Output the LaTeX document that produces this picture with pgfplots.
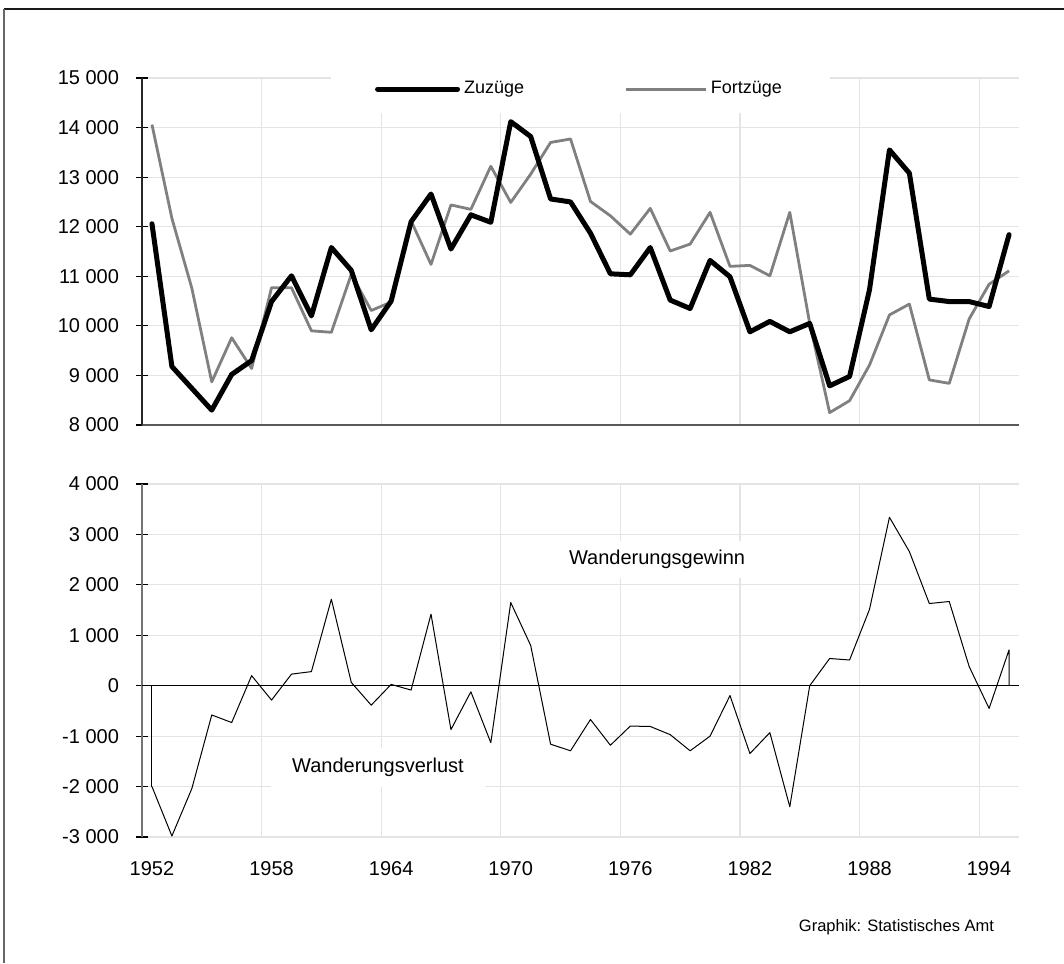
\documentclass[border=0pt]{standalone}
\usepackage{pgfplots}
\pgfplotsset{compat=1.18}
\usepackage{pgfplotstable}
\usepackage{fontspec}
\setmainfont{Liberation Sans}

\pgfplotstableread{
year zu fort net
1952 12060 14060 -2000
1953 9180 12170 -2980
1954 8740 10760 -2040
1955 8300 8870 -580
1956 9020 9760 -730
1957 9300 9140 200
1958 10490 10770 -285
1959 11010 10770 230
1960 10200 9900 280
1961 11580 9870 1715
1962 11120 11040 66
1963 9920 10310 -385
1964 10500 10480 26
1965 12100 12120 -86
1966 12660 11240 1420
1967 11550 12440 -870
1968 12240 12350 -120
1969 12090 13220 -1130
1970 14120 12490 1650
1971 13820 13060 800
1972 12560 13700 -1160
1973 12500 13770 -1290
1974 11870 12510 -670
1975 11050 12220 -1180
1976 11030 11850 -800
1977 11580 12370 -808
1978 10520 11510 -970
1979 10350 11650 -1290
1980 11320 12290 -1000
1981 10990 11200 -195
1982 9880 11220 -1345
1983 10090 11010 -930
1984 9880 12290 -2400
1985 10050 10050 0
1986 8790 8250 540
1987 8980 8490 510
1988 10730 9210 1515
1989 13550 10220 3340
1990 13080 10440 2660
1991 10540 8910 1630
1992 10490 8840 1670
1993 10490 10140 380
1994 10390 10840 -450
1995 11840 11110 710
}\data

\definecolor{gridc}{HTML}{E4E4E4}
\definecolor{fortc}{HTML}{808080}

\pgfplotsset{
  common/.style={
    scale only axis,
    width=438.5pt,
    xmin=1951.5, xmax=1995.5,
    font=\fontsize{10}{12}\selectfont,
    tick align=center,
    major tick length=6pt,
    minor tick length=0pt,
    ytick style={black, line width=0.6pt},
    x tick style={draw=none},
    grid style={gridc, line width=0.6pt},
    minor grid style={gridc, line width=0.6pt},
    ymajorgrids,
    xminorgrids,
    scaled y ticks=false,
    xtick={1952,1958,1964,1970,1976,1982,1988,1994},
    minor xtick={1951.5,1957.5,1963.5,1969.5,1975.5,1981.5,1987.5,1993.5},
    yticklabel style={xshift=-5pt},
    axis y line*=left,
    axis x line*=bottom,
    clip=false,
  }
}

\begin{document}
\begin{tikzpicture}
\path[use as bounding box] (0pt,0pt) rectangle (532pt,-481.5pt);
\draw[black!90, line width=1pt] (2pt,-4.5pt) -- (532pt,-4.5pt);
\draw[black!60, line width=1pt] (2pt,-4.5pt) -- (2pt,-481.5pt);

% top panel
\begin{axis}[common,
  at={(71pt,-212.5pt)}, anchor=south west,
  height=173.5pt,
  ymin=8000, ymax=15000,
  ytick={8000,9000,10000,11000,12000,13000,14000,15000},
  yticklabels={{8 000},{9 000},{10 000},{11 000},{12 000},{13 000},{14 000},{15 000}},
  xticklabels={},
  x axis line style={draw=black!65, line width=0.8pt, -},
  y axis line style={draw=black!85, line width=0.8pt, -},
  legend columns=2,
  legend style={at={(rel axis cs:0.5,0.968)}, anchor=center, draw=none, fill=white,
    font=\fontsize{9}{11}\selectfont, inner xsep=22pt, inner ysep=6pt,
    /tikz/every even column/.append style={column sep=48pt},
    nodes={inner xsep=2pt}},
  legend image code/.code={\draw[#1] (0pt,0pt) -- (40pt,0pt);},
]
\addlegendimage{black, line width=2.5pt, line cap=round}
\addlegendentry{Zuzüge}
\addlegendimage{fortc, line width=1.4pt}
\addlegendentry{Fortzüge}
\addplot[fortc, line width=1.4pt, line join=round, forget plot] table[x=year, y=fort] {\data};
\addplot[black, line width=2.5pt, line join=round, line cap=round, forget plot] table[x=year, y=zu] {\data};
\end{axis}

% bottom panel
\begin{axis}[common,
  at={(71pt,-418.5pt)}, anchor=south west,
  height=176.5pt,
  ymin=-3000, ymax=4000,
  ytick={-3000,-2000,-1000,0,1000,2000,3000,4000},
  yticklabels={{-3 000},{-2 000},{-1 000},{0},{1 000},{2 000},{3 000},{4 000}},
  xticklabels={1952,1958,1964,1970,1976,1982,1988,1994},
  xticklabel style={yshift=-5.5pt},
  x axis line style={draw=none},
  y axis line style={draw=black!55, line width=0.8pt, -},
]
\node[fill=white, inner xsep=5pt, inner ysep=4.5pt, font=\fontsize{10}{12}\selectfont] at (axis cs:1977.34,2500) {Wanderungsgewinn};
\node[fill=white, inner xsep=10.5pt, inner ysep=5pt, font=\fontsize{10}{12}\selectfont] at (axis cs:1963.34,-1617) {Wanderungsverlust};
\addplot[black, line width=0.7pt, forget plot] coordinates {(1951.5,0) (1995.5,0)};
\addplot[black, line width=0.5pt, line join=round] table[x=year, y=net] {\data} -- (axis cs:1995,0);
\addplot[black, line width=0.5pt] coordinates {(1952,0) (1952,-2000)};
\end{axis}

\node[anchor=east, font=\fontsize{8.25}{10}\selectfont] at (500.5pt,-463.5pt) {Graphik: Statistisches Amt};
\end{tikzpicture}
\end{document}
